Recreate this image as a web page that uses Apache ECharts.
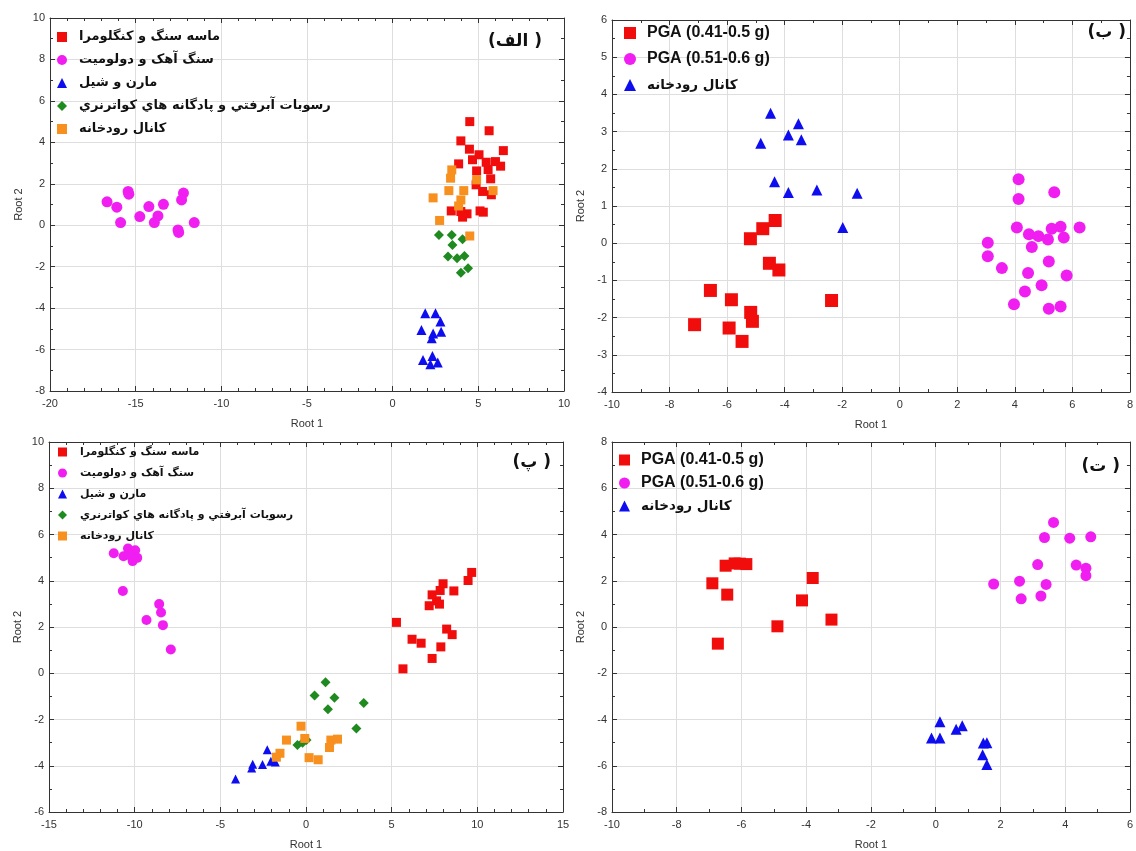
<!DOCTYPE html>
<html><head><meta charset="utf-8">
<script src="https://cdn.jsdelivr.net/npm/echarts@6/dist/echarts.min.js"></script>
<style>html,body{margin:0;padding:0;background:#fff}#c{width:1136px;height:851px}</style>
</head><body><div id="c"></div>
<script>
// ---- names ----
var nSand = 'ماسه سنگ و کنگلومرا';
var nLime = 'سنگ آهک و دولومیت';
var nMarl = 'مارن و شیل';
var nAlluv = 'رسوبات آبرفتي و پادگانه هاي كواترنري';
var nRiver = 'کانال رودخانه';
var nPga1 = 'PGA (0.41-0.5 g)';
var nPga2 = 'PGA (0.51-0.6 g)';
var panelLabels = ['(الف )', '(ب )', '(پ )', '(ت )'];

// ---- panel 1 (الف) ----
var p1Sand = [[4.5,5.0],[5.63,4.56],[3.98,4.07],[4.48,3.67],[6.46,3.6],[5.04,3.4],[4.66,3.16],[3.85,2.96],[5.46,3.04],[6.0,3.07],[6.3,2.85],[5.57,2.69],[4.9,2.62],[5.72,2.24],[4.87,1.95],[5.25,1.63],[5.76,1.47],[3.42,0.69],[3.98,0.66],[4.34,0.55],[4.08,0.39],[5.1,0.69],[5.29,0.63]];
var p1Lime = [[-16.67,1.13],[-16.1,0.87],[-15.44,1.63],[-15.4,1.5],[-15.88,0.13],[-14.76,0.42],[-14.23,0.9],[-13.38,1.01],[-13.7,0.45],[-13.91,0.13],[-12.21,1.55],[-12.32,1.22],[-12.53,-0.23],[-12.49,-0.35],[-11.58,0.13]];
var p1Marl = [[1.9,-4.25],[2.5,-4.25],[2.79,-4.65],[1.68,-5.06],[2.36,-5.22],[2.83,-5.14],[2.28,-5.46],[1.77,-6.5],[2.32,-6.31],[2.63,-6.63],[2.2,-6.71]];
var p1Alluv = [[2.7,-0.47],[3.45,-0.47],[4.08,-0.68],[3.49,-0.95],[3.23,-1.51],[3.76,-1.59],[4.19,-1.48],[4.4,-2.08],[3.98,-2.29]];
var p1River = [[3.45,2.67],[3.38,2.27],[4.9,2.19],[3.28,1.67],[4.15,1.67],[5.86,1.67],[2.36,1.32],[3.98,1.22],[3.85,0.93],[2.74,0.23],[4.5,-0.52]];

// ---- panel 2 (ب) ----
var p2Pga1 = [[-4.33,0.61],[-4.76,0.39],[-5.19,0.12],[-4.53,-0.54],[-4.2,-0.72],[-6.58,-1.27],[-5.85,-1.52],[-2.37,-1.54],[-5.18,-1.86],[-5.12,-2.1],[-7.13,-2.19],[-5.93,-2.28],[-5.48,-2.64]];
var p2Pga2 = [[4.13,1.72],[5.37,1.37],[4.13,1.19],[4.07,0.42],[4.49,0.24],[4.82,0.19],[5.15,0.1],[5.28,0.39],[5.59,0.44],[5.7,0.15],[6.25,0.42],[3.06,0.01],[3.06,-0.35],[4.59,-0.1],[3.55,-0.67],[5.18,-0.49],[4.46,-0.8],[5.8,-0.87],[4.93,-1.13],[4.35,-1.3],[3.97,-1.64],[5.18,-1.76],[5.59,-1.7]];
var p2River = [[-4.49,3.49],[-3.52,3.21],[-3.87,2.91],[-3.42,2.78],[-4.83,2.69],[-4.35,1.65],[-3.87,1.36],[-2.88,1.43],[-1.48,1.34],[-1.98,0.42]];

// ---- panel 3 (پ) ----
var p3Sand = [[9.67,4.36],[9.46,4.01],[8.0,3.87],[8.63,3.56],[7.36,3.39],[7.83,3.58],[7.62,3.13],[7.19,2.92],[7.79,2.99],[5.28,2.2],[8.21,1.91],[8.53,1.67],[6.19,1.47],[6.72,1.3],[7.87,1.14],[7.36,0.64],[5.66,0.19]];
var p3Lime = [[-11.22,5.19],[-10.65,5.06],[-10.39,5.39],[-9.97,5.32],[-10.12,4.85],[-9.85,4.99],[-10.3,5.1],[-10.69,3.56],[-8.57,2.99],[-8.46,2.63],[-9.31,2.3],[-8.35,2.08],[-7.89,1.03]];
var p3Marl = [[-2.26,-3.31],[-3.11,-3.93],[-3.17,-4.1],[-2.54,-3.95],[-2.05,-3.81],[-1.79,-3.84],[-4.11,-4.57]];
var p3Alluv = [[1.14,-0.39],[0.5,-0.96],[1.66,-1.06],[3.37,-1.29],[1.28,-1.56],[2.94,-2.39],[-0.5,-3.1],[0.03,-2.89],[-0.2,-3.0]];
var p3River = [[-0.29,-2.29],[-1.14,-2.89],[-0.07,-2.82],[1.45,-2.89],[1.84,-2.85],[1.37,-3.21],[-1.52,-3.46],[-1.73,-3.63],[0.18,-3.65],[0.71,-3.74]];

// ---- panel 4 (ت) ----
var p4Pga1 = [[-6.49,2.65],[-6.21,2.75],[-6.05,2.74],[-5.85,2.72],[-6.9,1.89],[-6.44,1.4],[-3.8,2.12],[-4.13,1.15],[-4.89,0.03],[-3.22,0.32],[-6.73,-0.72]];
var p4Pga2 = [[3.64,4.52],[3.36,3.87],[4.14,3.84],[4.79,3.9],[3.15,2.7],[4.34,2.68],[4.64,2.54],[4.64,2.22],[1.79,1.86],[2.59,1.98],[3.41,1.84],[2.64,1.22],[3.25,1.34]];
var p4River = [[0.13,-4.1],[0.82,-4.27],[0.63,-4.42],[-0.13,-4.8],[0.13,-4.8],[1.47,-5.02],[1.58,-5.0],[1.45,-5.52],[1.58,-5.95]];

// ---- axis ranges ----
var xRanges = [[-20,10,5],[-10,8,2],[-15,15,5],[-10,6,2]];
var yRanges = [[-8,10,2],[-4,6,1],[-6,10,2],[-8,8,2]];
var xMinorSplit = [5,2,5,2];
var yMinorSplit = [2,2,2,2];

var C = {red:'#f20d0d', pink:'#f01ef0', blue:'#0d0df0', green:'#1f8a1f', orange:'#f7901e'};
var FONT = 'Liberation Sans, Arial, sans-serif';
var FA = 'DejaVu Sans, Noto Sans, sans-serif';

var grids = [
  {left:50, top:18, width:514, height:373},
  {left:612, top:20, width:521, height:372},
  {left:49, top:442, width:514, height:372},
  {left:612, top:442, width:521, height:372}
];

var xAxes = [], yAxes = [];
for (var i=0;i<4;i++){
  var xr = xRanges[i], yr = yRanges[i];
  var common = {
    axisLine:{show:true,onZero:false,lineStyle:{color:'#333',width:1}},
    axisTick:{show:true,inside:true,length:5,lineStyle:{color:'#333'}}
  };
  xAxes.push(Object.assign({}, common, {
    type:'value', gridIndex:i, min:xr[0], max:xr[1], interval:xr[2], position:'bottom',
    minorTick:{show:true,splitNumber:xMinorSplit[i],length:3,lineStyle:{color:'#333'}},
    axisLabel:{color:'#333',fontSize:11,fontFamily:FONT,margin:7},
    splitLine:{show:true,lineStyle:{color:'#dedede',width:1}},
    name:'Root 1', nameLocation:'middle', nameGap:27,
    nameTextStyle:{color:'#333',fontSize:11,fontFamily:FONT}
  }));
  xAxes.push(Object.assign({}, common, {
    type:'value', gridIndex:i, min:xr[0], max:xr[1], interval:xr[2], position:'top',
    minorTick:{show:true,splitNumber:xMinorSplit[i],length:3,lineStyle:{color:'#333'}},
    axisLabel:{show:false}, splitLine:{show:false}
  }));
  yAxes.push(Object.assign({}, common, {
    type:'value', gridIndex:i, min:yr[0], max:yr[1], interval:yr[2], position:'left',
    minorTick:{show:true,splitNumber:yMinorSplit[i],length:3,lineStyle:{color:'#333'}},
    axisLabel:{color:'#333',fontSize:11,fontFamily:FONT,margin:5},
    splitLine:{show:true,lineStyle:{color:'#dedede',width:1}},
    name:'Root 2', nameLocation:'middle', nameGap:26,
    nameTextStyle:{color:'#333',fontSize:11,fontFamily:FONT}
  }));
  yAxes.push(Object.assign({}, common, {
    type:'value', gridIndex:i, min:yr[0], max:yr[1], interval:yr[2], position:'right',
    minorTick:{show:true,splitNumber:yMinorSplit[i],length:3,lineStyle:{color:'#333'}},
    axisLabel:{show:false}, splitLine:{show:false}
  }));
}

function sc(name, data, gi, symbol, size, color){
  return {type:'scatter', name:name, data:data, xAxisIndex:gi*2, yAxisIndex:gi*2,
    symbol:symbol, symbolSize:size, itemStyle:{color:color, opacity:1}, emphasis:{disabled:true}, animation:false};
}

var series = [
  sc(nSand, p1Sand, 0, 'rect', 9, C.red),
  sc(nLime, p1Lime, 0, 'circle', 11, C.pink),
  sc(nMarl, p1Marl, 0, 'triangle', 10, C.blue),
  sc(nAlluv, p1Alluv, 0, 'diamond', 10, C.green),
  sc(nRiver, p1River, 0, 'rect', 9, C.orange),

  sc(nPga1, p2Pga1, 1, 'rect', 13, C.red),
  sc(nPga2, p2Pga2, 1, 'circle', 12, C.pink),
  sc(nRiver+' ', p2River, 1, 'triangle', 11, C.blue),

  sc(nSand, p3Sand, 2, 'rect', 9, C.red),
  sc(nLime, p3Lime, 2, 'circle', 10, C.pink),
  sc(nMarl, p3Marl, 2, 'triangle', 9, C.blue),
  sc(nAlluv, p3Alluv, 2, 'diamond', 10, C.green),
  sc(nRiver, p3River, 2, 'rect', 9, C.orange),

  sc(nPga1, p4Pga1, 3, 'rect', 12, C.red),
  sc(nPga2, p4Pga2, 3, 'circle', 11, C.pink),
  sc(nRiver+' ', p4River, 3, 'triangle', 11, C.blue)
];

function lg(left, top, names, icons, size, fontSize, gap, pad, faSize){
  return {orient:'vertical', left:left, top:top, padding:0, itemGap:gap,
    itemWidth:size, itemHeight:size, selectedMode:false,
    formatter:function(n){ return /^PGA/.test(n) ? '{en|'+n+'}' : '{fa|'+n+'}'; },
    textStyle:{fontSize:fontSize, fontWeight:'bold', fontFamily:FA, color:'#111', lineHeight:18, padding:[0,0,0,pad],
      rich:{
        en:{fontSize:fontSize, fontWeight:'bold', fontFamily:FONT, color:'#111', lineHeight:18},
        fa:{fontSize:faSize, fontWeight:'bold', fontFamily:FA, color:'#111', lineHeight:18}
      }},
    data:names.map(function(n,k){return {name:n, icon:icons[k]};})};
}
var legend5 = [nSand,nLime,nMarl,nAlluv,nRiver];
var icons5 = ['rect','circle','triangle','diamond','rect'];
var legend3 = [nPga1,nPga2,nRiver+' '];
var icons3 = ['rect','circle','triangle'];

var legends = [
  lg(57, 28, legend5, icons5, 10, 13, 5, 7, 13),
  lg(624, 24, legend3, icons3, 12, 16, 8, 6, 13.5),
  lg(58, 443, legend5, icons5, 9, 11, 3, 8, 11),
  lg(619, 451, legend3, icons3, 11, 16, 5, 6, 13.5)
];

var titles = [
  {text:panelLabels[0], right:594, top:33},
  {text:panelLabels[1], right:10, top:24},
  {text:panelLabels[2], right:585, top:454},
  {text:panelLabels[3], right:16, top:458}
].map(function(t){ t.padding=0; t.textStyle={fontSize:17,fontWeight:'bold',fontFamily:FA,color:'#111'}; return t; });

var chart = echarts.init(document.getElementById('c'), null, {renderer:'canvas'});
chart.setOption({
  animation:false,
  backgroundColor:'#fff',
  title:titles,
  legend:legends,
  grid:grids,
  xAxis:xAxes,
  yAxis:yAxes,
  series:series
});
</script></body></html>
